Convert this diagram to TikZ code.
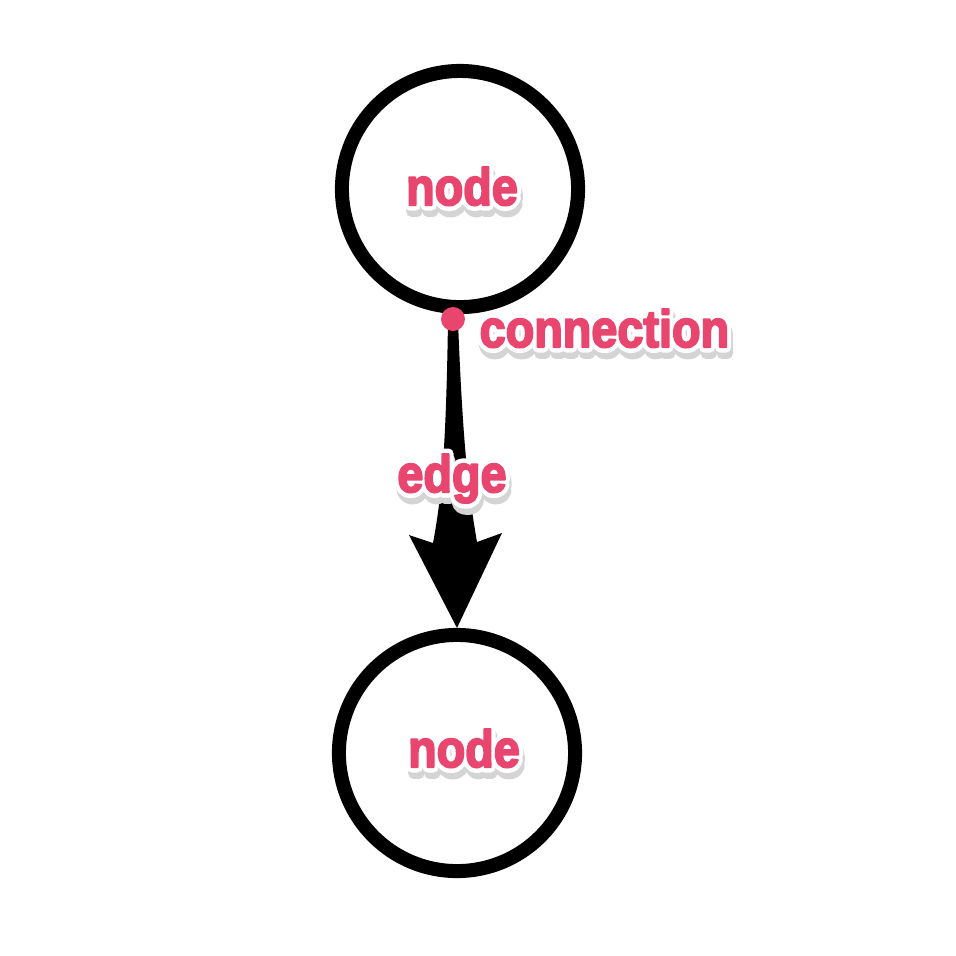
\documentclass[tikz,border=0pt]{standalone}
\usepackage{fontspec}
\setmainfont{Liberation Sans}
\usetikzlibrary{calc}
\definecolor{lblpink}{HTML}{E8456F}
\definecolor{shadowgray}{HTML}{D4D4D4}
\newcommand{\trmode}[2]{\special{pdf:literal direct #1 Tr #2 w 1 j}}
\newcommand{\lbltext}[1]{\scalebox{1}[1.12]{\fontsize{13.3}{16}\selectfont\bfseries
  \rlap{\raisebox{-1.6pt}{\hspace{0.5pt}\trmode{2}{2.8}\textcolor{shadowgray}{#1}}}%
  \rlap{\trmode{2}{2.8}\textcolor{white}{#1}}%
  \trmode{2}{0.5}\textcolor{lblpink}{#1}\trmode{0}{0.4}}}
\tikzset{
  circnode/.style={circle, draw=black, line width=0.14cm, minimum size=2.36cm, inner sep=0pt, fill=none},
  lbl/.style={inner sep=0pt, anchor=base},
}
\begin{document}
\begin{tikzpicture}[x=0.01cm, y=-0.01cm]
\useasboundingbox (0,0) rectangle (956,956);
\fill[white] (0,0) rectangle (956,956);
\node[circnode] (top) at (460,189) {};
\node[circnode] (bot) at (457,753) {};
\coordinate (conn) at (453,319);
% tapered edge with arrowhead
\fill[black] (448,321) .. controls (446,455) and (441,500) .. (433,543)
  -- (409,535) -- (bot.north) -- (502,533) -- (477,542)
  .. controls (469,495) and (463,450) .. (458,321) -- cycle;
\fill[lblpink] (conn) circle (12);
\node[lbl] (toplbl) at (462,205) {\lbltext{node}};
\node[lbl] (botlbl) at (464,767) {\lbltext{node}};
\node[lbl] (edgelbl) at (452,492) {\lbltext{edge}};
\node[lbl, anchor=base west] (connlbl) at (479,347) {\lbltext{connection}};
\end{tikzpicture}
\end{document}
